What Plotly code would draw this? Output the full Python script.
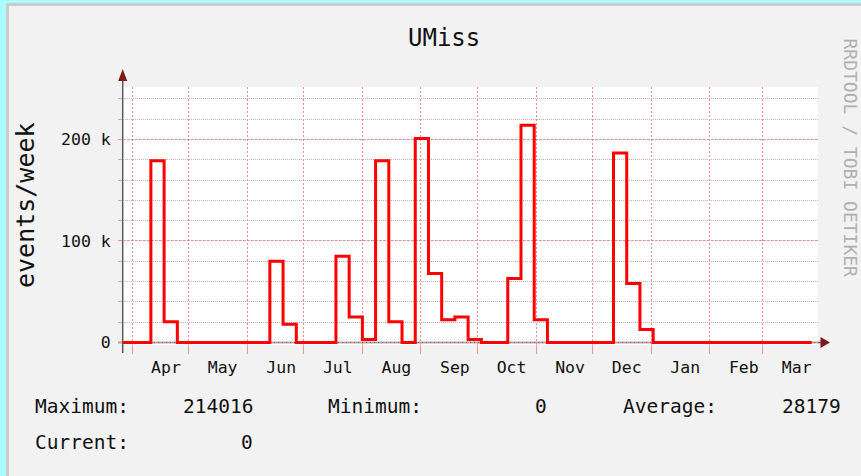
import plotly.graph_objects as go
import pandas as pd

# ---------------- data ----------------
week_start = "2013-03-21"          # first weekly bucket (Thursday)
events_per_week = [
    0, 0, 0, 179000, 20500, 0, 0, 0, 0, 0, 0, 0,
    80000, 18000, 0, 0, 0, 85000, 25000, 3000, 179000, 20500, 0,
    201000, 68000, 22500, 25000, 3000, 0, 0, 63000, 214016, 22500,
    0, 0, 0, 0, 0, 186500, 58000, 12800, 0,
    0, 0, 0, 0, 0, 0, 0, 0, 0, 0, 0, 0,
]
month_labels = ["Apr", "May", "Jun", "Jul", "Aug", "Sep", "Oct", "Nov", "Dec",
                "Jan", "Feb", "Mar"]
month_label_dates = pd.date_range("2013-04-19", periods=12,
                                  freq=pd.DateOffset(months=1))
y_tick_vals = [0, 100000, 200000]
y_tick_text = ["0", "100 k", "200 k"]
stat_names = ["Maximum:", "Minimum:", "Average:", "Current:"]
stat_values = ["214016", "0", "28179", "0"]
title_text = "UMiss"
y_title = "events/week"
watermark = "RRDTOOL / TOBI OETIKER"

dates = pd.date_range(week_start, periods=len(events_per_week), freq="7D")

# ---------------- layout geometry (pixels) ----------------
W, H = 861, 476
ML, MR, MT, MB = 123, 43, 87, 131
PW = W - ML - MR
PH = H - MT - MB
PB = H - MB  # plot bottom pixel


def px(xp):
    return (xp - ML) / PW


def py(yp):
    return (PB - yp) / PH


MONO = "DejaVu Sans Mono"
RED_GRID = "#ef9090"
GRAY_GRID = "#b4b4b4"

fig = go.Figure()
fig.add_trace(go.Scatter(
    x=dates, y=events_per_week, mode="lines",
    line=dict(color="#ff0000", width=3, shape="hv"),
    hoverinfo="skip", showlegend=False,
))

shapes = []
# cyan outer frame + grey bevel
shapes += [
    dict(type="rect", xref="paper", yref="paper", x0=px(0), x1=px(W), y0=py(0), y1=py(3),
         fillcolor="#aaffff", line_width=0, layer="above"),
    dict(type="rect", xref="paper", yref="paper", x0=px(0), x1=px(6), y0=py(0), y1=py(H),
         fillcolor="#aaffff", line_width=0, layer="above"),
    dict(type="rect", xref="paper", yref="paper", x0=px(6), x1=px(W), y0=py(3), y1=py(6),
         fillcolor="#cbcbcb", line_width=0, layer="above"),
    dict(type="rect", xref="paper", yref="paper", x0=px(6), x1=px(9), y0=py(3), y1=py(H),
         fillcolor="#cbcbcb", line_width=0, layer="above"),
]
# axis lines
shapes += [
    dict(type="line", xref="paper", yref="paper", x0=px(122.7), x1=px(122.7),
         y0=py(353), y1=py(78), line=dict(color="#5a5a5a", width=1.5), layer="below"),
    dict(type="line", xref="paper", yref="y", x0=px(118), x1=px(823),
         y0=0, y1=0, line=dict(color="#5a5a5a", width=1.5), layer="below"),
]
# arrow heads
shapes += [
    dict(type="path", xref="paper", yref="paper",
         path=f"M {px(122.7)} {py(69)} L {px(118.2)} {py(81)} L {px(127.2)} {py(81)} Z",
         fillcolor="#7f1a1a", line_width=0, layer="above"),
    dict(type="path", xref="paper", yref="paper",
         path=f"M {px(830)} {py(342.5)} L {px(820.5)} {py(337)} L {px(820.5)} {py(348)} Z",
         fillcolor="#7f1a1a", line_width=0, layer="above"),
]

annotations = [
    dict(text=title_text, xref="paper", yref="paper", x=px(443.5), y=py(37.5),
         xanchor="center", yanchor="middle", showarrow=False,
         font=dict(family=MONO, size=24, color="#111")),
    dict(text=y_title, xref="paper", yref="paper", x=px(25), y=py(205),
         xanchor="center", yanchor="middle", showarrow=False, textangle=-90,
         font=dict(family=MONO, size=25, color="#111")),
    dict(text=watermark, xref="paper", yref="paper", x=px(850.5), y=py(158),
         xanchor="center", yanchor="middle", showarrow=False, textangle=90,
         font=dict(family=MONO, size=18, color="#b0b0b0")),
]

# statistics block (name left-aligned, value right-aligned)
name_pos = [(35, 406.7), (328.3, 406.7), (622.7, 406.7), (35, 442.5)]
value_pos = [(253.3, 406.7), (546.7, 406.7), (840.7, 406.7), (253.3, 442.5)]
for name, val, (nx, ny), (vx, vy) in zip(stat_names, stat_values, name_pos, value_pos):
    annotations.append(dict(text=name, xref="paper", yref="paper", x=px(nx - 2), y=py(ny),
                            xanchor="left", yanchor="middle", showarrow=False,
                            font=dict(family=MONO, size=19.5, color="#111")))
    annotations.append(dict(text=val, xref="paper", yref="paper", x=px(vx + 2), y=py(vy),
                            xanchor="right", yanchor="middle", showarrow=False,
                            font=dict(family=MONO, size=19.5, color="#111")))

fig.update_layout(
    width=W, height=H,
    margin=dict(l=ML, r=MR, t=MT, b=MB, pad=0),
    paper_bgcolor="#f2f2f2",
    plot_bgcolor="#ffffff",
    showlegend=False,
    shapes=shapes,
    annotations=annotations,
    xaxis=dict(
        type="date",
        range=["2013-03-27 05:30", "2014-03-30 07:00"],
        tickmode="array", tickvals=month_label_dates, ticktext=month_labels,
        showgrid=False, ticks="", zeroline=False, showline=False,
        tickfont=dict(family=MONO, size=16.5, color="#111"),
        ticklabelstandoff=10,
        minor=dict(dtick="M1", tick0="2013-04-01", showgrid=True,
                   gridcolor=RED_GRID, griddash="2px,2px", gridwidth=1,
                   ticks="outside", ticklen=8, tickcolor=RED_GRID, tickwidth=1),
        fixedrange=True,
    ),
    yaxis=dict(
        range=[-2460, 251600],
        tickmode="array", tickvals=y_tick_vals, ticktext=y_tick_text,
        showgrid=True, gridcolor=RED_GRID, griddash="2px,2px", gridwidth=1,
        ticks="outside", ticklen=4, tickcolor=RED_GRID,
        zeroline=False, showline=False,
        tickfont=dict(family=MONO, size=16.5, color="#111"),
        ticklabelstandoff=4,
        minor=dict(dtick=20000, tick0=0, showgrid=True, gridcolor=GRAY_GRID,
                   griddash="1px,1px", gridwidth=1, ticks="outside", ticklen=4,
                   tickcolor=GRAY_GRID),
        fixedrange=True,
    ),
)

fig.write_html(
    "out.html",
    config={"displayModeBar": False},
    post_script="document.body.style.margin='0';document.body.style.overflow='hidden';",
)
